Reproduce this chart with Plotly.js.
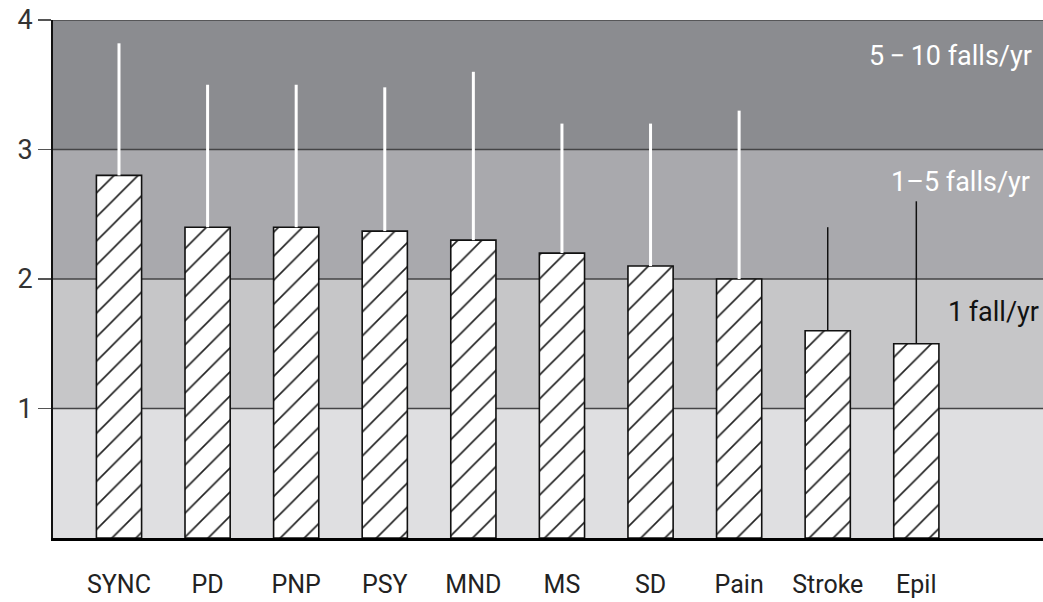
<!DOCTYPE html>
<html>
<head>
<meta charset="utf-8">
<script src="https://cdn.plot.ly/plotly-3.0.1.min.js"></script>
<style>html,body{margin:0;padding:0;background:#fff;}#chart{width:1043px;height:602px;}</style>
</head>
<body>
<div id="chart"></div>
<script>
// Data
const categories = ["SYNC", "PD", "PNP", "PSY", "MND", "MS", "SD", "Pain", "Stroke", "Epil"];
const meanFalls = [2.8, 2.4, 2.4, 2.37, 2.3, 2.2, 2.1, 2.0, 1.6, 1.5];
const upperBound = [3.82, 3.5, 3.5, 3.48, 3.6, 3.2, 3.2, 3.3, 2.4, 2.6];
const yTicks = [1, 2, 3, 4];
const bandEdges = [0, 1, 2, 3, 4];
const bandColors = ["#dfdfe1", "#c6c6c8", "#a9a9ad", "#8b8c90"];
const bandLabels = ["1\u2009fall/yr", "1\u20135 falls/yr", "5\u2009\u2212\u200910 falls/yr"];
const bandLabelY = [1.745, 2.75, 3.72];
const bandLabelX = [9.33, 8.69, 8.44];
const bandLabelColor = ["#111111", "#ffffff", "#ffffff"];

const whiteIdx = [0,1,2,3,4,5,6,7];
const blackIdx = [8,9];
const FONT = "Roboto, 'Liberation Sans Narrow', sans-serif";

function makeTrace(idx, errColor, errWidth) {
  return {
    type: 'bar',
    x: idx.map(i => categories[i]),
    y: idx.map(i => meanFalls[i]),
    width: 0.51,
    marker: {
      color: '#ffffff',
      line: {color: '#111111', width: 1.6},
      pattern: {shape: '/', fgcolor: '#222222', bgcolor: '#ffffff', size: 17, solidity: 0.1}
    },
    error_y: {
      type: 'data', symmetric: false,
      array: idx.map(i => upperBound[i] - meanFalls[i]),
      arrayminus: idx.map(i => 0),
      color: errColor, thickness: errWidth, width: 0
    },
    hoverinfo: 'skip',
    showlegend: false
  };
}

const shapes = [];
for (let i = 0; i < bandColors.length; i++) {
  shapes.push({type: 'rect', xref: 'paper', yref: 'y', x0: 0, x1: 1,
    y0: bandEdges[i], y1: bandEdges[i+1], fillcolor: bandColors[i], line: {width: 0}, layer: 'below'});
}
for (let i = 1; i < bandEdges.length; i++) {
  shapes.push({type: 'line', xref: 'paper', yref: 'y', x0: 0, x1: 1,
    y0: bandEdges[i], y1: bandEdges[i], line: {color: '#444446', width: 1.5}, layer: 'below'});
}

const annotations = bandLabels.map((t, i) => ({
  x: bandLabelX[i], y: bandLabelY[i], xref: 'x', yref: 'y', text: t,
  showarrow: false, xanchor: 'left', yanchor: 'middle',
  font: {family: FONT, size: 27, color: bandLabelColor[i]}
}));

const layout = {
  width: 1043, height: 602,
  margin: {l: 53, r: 0, t: 20, b: 64},
  paper_bgcolor: '#ffffff', plot_bgcolor: '#ffffff',
  barmode: 'overlay',
  showlegend: false,
  xaxis: {
    type: 'category', categoryorder: 'array', categoryarray: categories,
    range: [-0.745, 10.43],
    showline: true, linecolor: '#000000', linewidth: 3,
    ticks: '', showgrid: false, zeroline: false,
    ticklabelstandoff: 22,
    tickfont: {family: FONT, size: 25, color: '#222222'}
  },
  yaxis: {
    range: [0, 4], tickvals: yTicks, ticktext: yTicks.map(String),
    showline: true, linecolor: '#111111', linewidth: 2,
    ticks: 'outside', ticklen: 13, tickwidth: 1.5, tickcolor: '#555555',
    showgrid: false, zeroline: false,
    tickfont: {family: FONT, size: 27, color: '#333333'}
  },
  shapes: shapes,
  annotations: annotations
};

Plotly.newPlot('chart', [makeTrace(whiteIdx, '#ffffff', 3), makeTrace(blackIdx, '#111111', 1.5)], layout, {staticPlot: true});
</script>
</body>
</html>
